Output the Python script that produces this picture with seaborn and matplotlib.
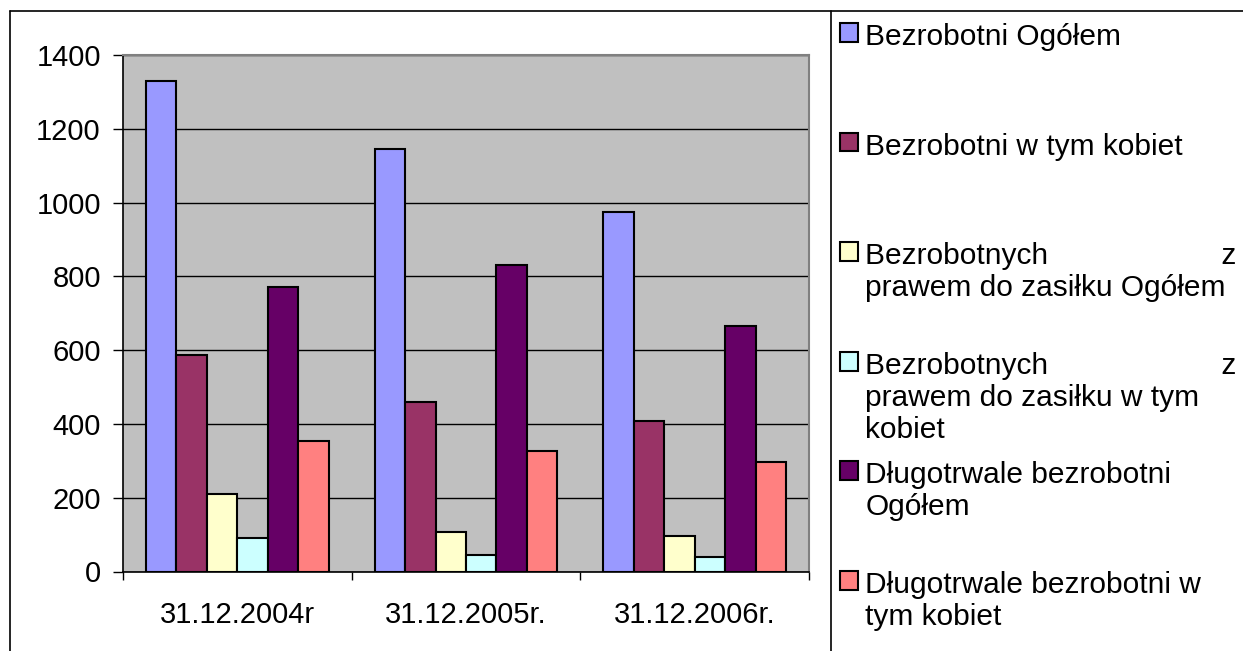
import numpy as np
import pandas as pd
import matplotlib
matplotlib.use('Agg')
import matplotlib.pyplot as plt
from matplotlib.lines import Line2D
import seaborn as sns

# Dane
dates = ['31.12.2004r', '31.12.2005r.', '31.12.2006r.']
series = ['Bezrobotni Ogółem',
          'Bezrobotni w tym kobiet',
          'Bezrobotnych z prawem do zasiłku Ogółem',
          'Bezrobotnych z prawem do zasiłku w tym kobiet',
          'Długotrwale bezrobotni Ogółem',
          'Długotrwale bezrobotni w tym kobiet']
ogolem = [1330, 1145, 974]
kobiety = [588, 459, 408]
zasilek_ogolem = [209, 107, 97]
zasilek_kobiety = [92, 44, 40]
dlugo_ogolem = [770, 832, 665]
dlugo_kobiety = [355, 327, 297]

# Etykiety legendy, zawinięte jak w oryginale
legend_labels = [
    'Bezrobotni Ogółem\n\n',
    'Bezrobotni w tym kobiet\n\n',
    'Bezrobotnych' + ' ' * 21 + 'z\nprawem do zasiłku Ogółem\n',
    'Bezrobotnych' + ' ' * 21 + 'z\nprawem do zasiłku w tym\nkobiet',
    'Długotrwale bezrobotni\nOgółem\n',
    'Długotrwale bezrobotni w\ntym kobiet',
]

colors = ['#9999FF', '#993366', '#FFFFCC', '#CCFFFF', '#660066', '#FF8080']

values = [ogolem, kobiety, zasilek_ogolem, zasilek_kobiety, dlugo_ogolem, dlugo_kobiety]
rows = []
for name, vals in zip(series, values):
    for d, v in zip(dates, vals):
        rows.append({'data': d, 'seria': name, 'wartosc': v})
df = pd.DataFrame(rows)

sns.set_style('white')
plt.rcParams['font.family'] = ['Liberation Sans', 'DejaVu Sans']
plt.rcParams['text.color'] = 'black'
plt.rcParams['xtick.color'] = 'black'
plt.rcParams['ytick.color'] = 'black'

W, H = 1243, 651
FS = 21
fig = plt.figure(figsize=(W / 100, H / 100), dpi=100)
ax = fig.add_axes([123 / W, 1 - 571.5 / H, (809 - 123) / W, (571.5 - 55) / H])
ax.set_facecolor('#C0C0C0')

sns.barplot(data=df, x='data', y='wartosc', hue='seria', order=dates, hue_order=series,
            palette=colors, saturation=1, width=0.8, edgecolor='black', linewidth=1.5, ax=ax)

handles, _ = ax.get_legend_handles_labels()
ax.get_legend().remove()

ax.set_xlabel('')
ax.set_ylabel('')
ax.set_ylim(0, 1400)
ax.set_xlim(-0.5, 2.5)
ax.set_yticks(np.arange(0, 1401, 200))
ax.yaxis.grid(True, color='black', linewidth=1)
ax.set_axisbelow(True)

ax.set_xticks([-0.5, 0.5, 1.5, 2.5], minor=True)
ax.tick_params(axis='x', which='major', length=0, pad=21, labelsize=FS, labelcolor='black')
ax.tick_params(axis='x', which='minor', length=6, width=1, direction='out', color='black', bottom=True)
ax.tick_params(axis='y', length=7, width=1, direction='out', color='black', pad=9,
               labelsize=FS, labelcolor='black', left=True)

for side in ['left', 'bottom']:
    ax.spines[side].set_color('black')
    ax.spines[side].set_linewidth(1.2)
for side in ['top', 'right']:
    ax.spines[side].set_color('#808080')
    ax.spines[side].set_linewidth(1.5)

# Legenda
leg = fig.legend(handles, legend_labels, loc='upper left',
                 bbox_to_anchor=(840 / W, 1 - 23 / H), bbox_transform=fig.transFigure,
                 frameon=False, fontsize=21.5, borderpad=0, borderaxespad=0,
                 handlelength=0.6, handleheight=0.6, handletextpad=0.25,
                 labelspacing=0.56, labelcolor='black')
for col in leg._legend_handle_box.get_children():
    for item in col.get_children():
        item.align = 'top'
for h in leg.legend_handles:
    h.set_edgecolor('black')
    h.set_linewidth(1.5)

# Ramka
top_y = 1 - 10.7 / H
fig.add_artist(Line2D([10 / W, 10 / W], [0, top_y], transform=fig.transFigure, color='black', lw=1.2))
fig.add_artist(Line2D([10 / W, 1], [top_y, top_y], transform=fig.transFigure, color='black', lw=1.2))
fig.add_artist(Line2D([830.5 / W, 830.5 / W], [0, top_y], transform=fig.transFigure, color='black', lw=1.2))

plt.savefig('out.png', dpi=100)
plt.close()
